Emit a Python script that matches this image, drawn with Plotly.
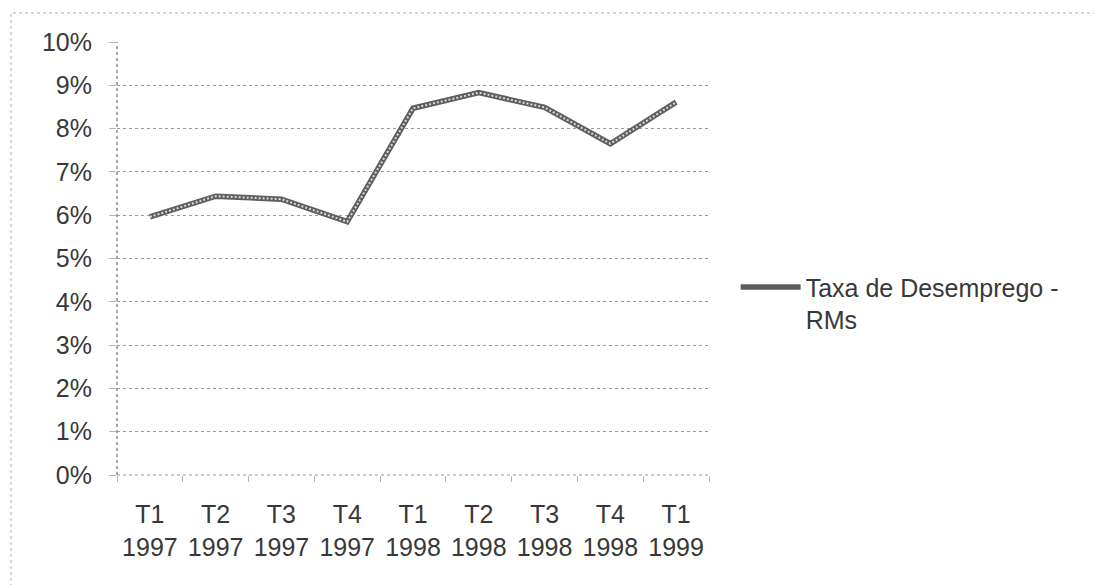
import plotly.graph_objects as go

# Quarterly unemployment rate, metropolitan regions
trimestres = ["T1<br>1997", "T2<br>1997", "T3<br>1997", "T4<br>1997",
              "T1<br>1998", "T2<br>1998", "T3<br>1998", "T4<br>1998",
              "T1<br>1999"]
taxa = [0.0596, 0.0644, 0.0637, 0.0585, 0.0847, 0.0883, 0.0849, 0.0765, 0.0861]
serie = "Taxa de Desemprego -<br>RMs"

W, H = 1094, 585
L, R, T, B = 117, 385, 42, 110

FONT = dict(family="Liberation Sans, Arial, sans-serif", size=25, color="#383838")
GRID = "#9a9a9a"

fig = go.Figure()

# patterned line: dark base with a light dotted core
fig.add_trace(go.Scatter(
    x=trimestres, y=taxa, mode="lines", name=serie,
    line=dict(color="#5e5e5e", width=5.5),
))
fig.add_trace(go.Scatter(
    x=trimestres, y=taxa, mode="lines", showlegend=False, hoverinfo="skip",
    line=dict(color="#d8d8d8", width=2, dash="2px,2px"),
))

fig.update_layout(
    width=W, height=H,
    margin=dict(l=L, r=R, t=T, b=B, pad=0),
    paper_bgcolor="white", plot_bgcolor="white",
    font=FONT,
    showlegend=True,
    legend=dict(
        x=1.045, y=0.487, xanchor="left", yanchor="top",
        bgcolor="rgba(0,0,0,0)", font=FONT, valign="top",
        itemwidth=60, tracegroupgap=0,
    ),
    xaxis=dict(
        type="category", tickson="boundaries", range=[-0.5, 8.5],
        showgrid=False, zeroline=False, showline=False,
        ticks="outside", ticklen=6, tickcolor="#b5b5b5",
        ticklabelstandoff=22,
        tickfont=FONT,
    ),
    yaxis=dict(
        range=[0, 0.1], dtick=0.01, tickformat=".0%",
        showgrid=True, gridcolor=GRID, gridwidth=1, griddash="dot",
        zeroline=False, showline=False,
        ticks="outside", ticklen=7, tickcolor="#b5b5b5",
        ticklabelstandoff=12,
        tickfont=FONT,
    ),
    shapes=[
        # outer chart-area border
        dict(type="rect", xref="paper", yref="paper",
             x0=(11 - L) / (W - L - R), x1=(W + 5 - L) / (W - L - R),
             y0=(H - B - (H + 5)) / (H - T - B), y1=(H - B - 13) / (H - T - B),
             line=dict(color="#b0b0b0", width=1, dash="dot"), layer="below"),
        # dotted axis lines
        dict(type="line", xref="x domain", yref="y domain",
             x0=0, x1=0, y0=0, y1=1,
             line=dict(color="#8a8a8a", width=1.5, dash="dot"), layer="below"),
        dict(type="line", xref="x domain", yref="y domain",
             x0=0, x1=1, y0=0, y1=0,
             line=dict(color="#9a9a9a", width=1.2, dash="dot"), layer="below"),
    ],
)

fig.write_html("out.html")
